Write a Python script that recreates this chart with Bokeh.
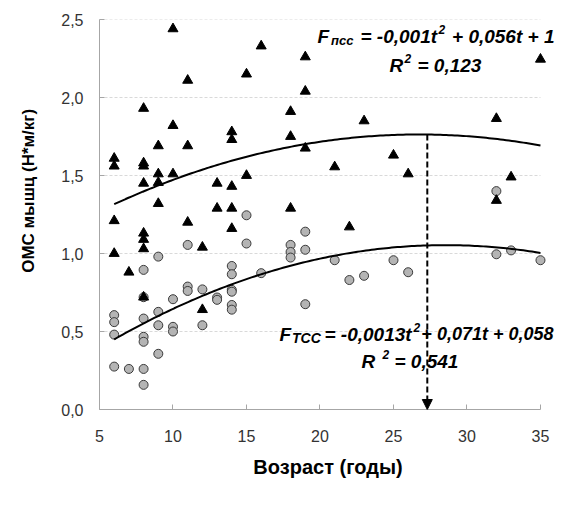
import numpy as np
from bokeh.plotting import figure
from bokeh.models import (ColumnDataSource, Label, Arrow, NormalHead, FixedTicker,
                          CustomJSTickFormatter, Range1d)
from bokeh.embed import file_html
from bokeh.resources import INLINE

# ---------------- data ----------------
# ТСС group (grey circles)
age_tcc = [6, 6, 6, 6,
           7,
           8, 8, 8, 8, 8, 8, 8,
           9, 9, 9, 9,
           10, 10, 10,
           11, 11, 11,
           12, 12,
           13, 13,
           14, 14, 14, 14, 14, 14,
           15, 15,
           16,
           18, 18, 18,
           19, 19, 19,
           21, 22, 23, 25, 26,
           32, 32, 33, 35]
omc_tcc = [0.605, 0.56, 0.48, 0.275,
           0.26,
           0.895, 0.72, 0.583, 0.466, 0.434, 0.26, 0.158,
           0.98, 0.626, 0.54, 0.357,
           0.707, 0.53, 0.50,
           1.055, 0.788, 0.76,
           0.77, 0.54,
           0.718, 0.703,
           0.92, 0.867, 0.767, 0.755, 0.67, 0.64,
           1.245, 1.064,
           0.874,
           1.055, 1.01, 0.974,
           1.14, 1.024, 0.675,
           0.957, 0.83, 0.857, 0.957, 0.88,
           1.40, 0.995, 1.02, 0.957]

# ПСС group (black triangles)
age_psc = [6, 6, 6, 6,
           7,
           8, 8, 8, 8, 8, 8, 8, 8,
           9, 9, 9, 9,
           10, 10, 10,
           11, 11, 11,
           12, 12,
           13, 13,
           14, 14, 14, 14, 14,
           15, 15,
           16,
           18, 18, 18,
           19, 19, 19,
           21, 22, 23, 25, 26,
           32, 32, 33, 35]
omc_psc = [1.61, 1.56, 1.21, 1.00,
           0.88,
           1.93, 1.58, 1.56, 1.45, 1.13, 1.09, 1.03, 0.72,
           1.69, 1.51, 1.455, 1.32,
           2.44, 1.82, 1.51,
           2.11, 1.69, 1.20,
           1.04, 0.64,
           1.45, 1.29,
           1.78, 1.73, 1.43, 1.29, 1.16,
           2.15, 1.50,
           2.33,
           1.91, 1.75, 1.29,
           2.26, 2.04, 1.675,
           1.555, 1.17, 1.85, 1.63, 1.51,
           1.865, 1.34, 1.49, 2.245]

# polynomial trend lines as drawn (a*t^2 + b*t + c)
fit_psc = [-0.00104, 0.0556, 1.02]
fit_tcc = [-0.00119, 0.0679, 0.085]
fit_range = [6, 35]
arrow_age = 27.3

x_ticks = [5, 10, 15, 20, 25, 30, 35]
y_ticks = [0.0, 0.5, 1.0, 1.5, 2.0, 2.5]

x_title = "Возраст (годы)"
y_title = "ОМС мышц (Н*м/кг)"

# ---------------- figure ----------------
# frame runs a little past the last tick so the equations can overhang it
X_VIEW_END = 36.09
p = figure(width=556, height=489, output_backend="svg", toolbar_location=None,
           x_range=Range1d(x_ticks[0], X_VIEW_END), y_range=Range1d(y_ticks[0], y_ticks[-1]),
           min_border_left=99, min_border_right=0, min_border_top=19,
           min_border_bottom=80)
p.outline_line_color = None
p.background_fill_color = "white"
p.border_fill_color = "white"

p.xgrid.visible = False
p.ygrid.visible = False
grid_y = y_ticks[1:]
p.segment(x0=[x_ticks[0]] * len(grid_y), x1=[x_ticks[-1]] * len(grid_y),
          y0=grid_y, y1=grid_y, line_color="#d9d9d9", line_dash="3 2", line_width=1)

for ax in (p.xaxis[0], p.yaxis[0]):
    ax.axis_line_color = "#a6a6a6"
    ax.major_tick_line_color = "#a6a6a6"
    ax.major_tick_in = 5
    ax.major_tick_out = 0
    ax.minor_tick_line_color = None
    ax.major_label_text_font = "Liberation Sans"
    ax.major_label_text_font_size = "16px"
    ax.major_label_text_color = "#333333"

p.xaxis.bounds = (x_ticks[0], x_ticks[-1])
p.xaxis.ticker = FixedTicker(ticks=x_ticks)
p.yaxis.ticker = FixedTicker(ticks=y_ticks)
p.xaxis.major_label_standoff = 20
p.yaxis.major_label_standoff = 16
p.yaxis.formatter = CustomJSTickFormatter(code="return tick.toFixed(1).replace('.', ',');")

p.xaxis.axis_label = x_title
p.xaxis.axis_label_text_font = "Liberation Sans"
p.xaxis.axis_label_text_font_style = "bold"
p.xaxis.axis_label_text_font_size = "20px"
p.xaxis.axis_label_text_color = "black"
p.xaxis.axis_label_standoff = 11

# leading no-break spaces push the (centred) title upwards like in the original
p.yaxis.axis_label = "\u00a0" * 10 + y_title
p.yaxis.axis_label_text_font = "Liberation Sans"
p.yaxis.axis_label_text_font_style = "bold"
p.yaxis.axis_label_text_font_size = "17px"
p.yaxis.axis_label_text_color = "black"
p.yaxis.axis_label_standoff = 20

# ---------------- marks ----------------
src_tcc = ColumnDataSource(dict(x=age_tcc, y=omc_tcc))
src_psc = ColumnDataSource(dict(x=age_psc, y=omc_psc))
p.scatter("x", "y", source=src_tcc, marker="circle", size=9,
          fill_color="#b4b4b4", line_color="#3a3a3a", line_width=1)
p.scatter("x", "y", source=src_psc, marker="triangle", size=10,
          fill_color="black", line_color="black", line_width=1)

t = np.linspace(fit_range[0], fit_range[1], 150)
p.line(t, np.polyval(fit_psc, t), line_color="black", line_width=2)
p.line(t, np.polyval(fit_tcc, t), line_color="black", line_width=2)

arrow_top = float(np.polyval(fit_psc, arrow_age))
p.add_layout(Arrow(x_start=arrow_age, y_start=arrow_top, x_end=arrow_age, y_end=0,
                   line_color="black", line_width=2, line_dash="6 3",
                   end=NormalHead(size=10, fill_color="black", line_color="black",
                                  line_width=1)))

# ---------------- text annotations ----------------
def dx(px):
    return 5 + (px - 107) / 14.7


def dy(py):
    return (417 - py) / 156.0


def lab(text, px, py, size, align="left", style="bold italic"):
    p.add_layout(Label(x=dx(px), y=dy(py), text=text, text_font="Liberation Sans",
                       text_font_style=style, text_font_size=size,
                       text_color="black", text_align=align,
                       text_baseline="alphabetic"))


# upper equation (ПСС)
lab("F", 325, 43.5, "19px")
lab("псс", 338.5, 47.5, "13px")
lab("= -0,001t", 368, 43.5, "19px")
lab("2", 446, 36.5, "12px")
lab("+ 0,056t + 1", 562, 43.5, "19px", align="right")
lab("R", 397, 72.5, "19px")
lab("2", 412, 65.5, "12px")
lab("= 0,123", 425, 72.5, "19px")

# lower equation (ТСС)
lab("F", 287, 341.5, "19px")
lab("TCC", 299.5, 345.5, "14px")
lab("= -0,0013t", 332, 341.5, "19px")
lab("2", 421, 334.5, "12px")
lab("+ 0,071t + 0,058", 561, 341.5, "18px", align="right")
lab("R", 369, 369, "19px")
lab("2", 390, 362, "12px")
lab("= 0,541", 402, 369, "19px")

open("out.html", "w").write(file_html(p, INLINE))
